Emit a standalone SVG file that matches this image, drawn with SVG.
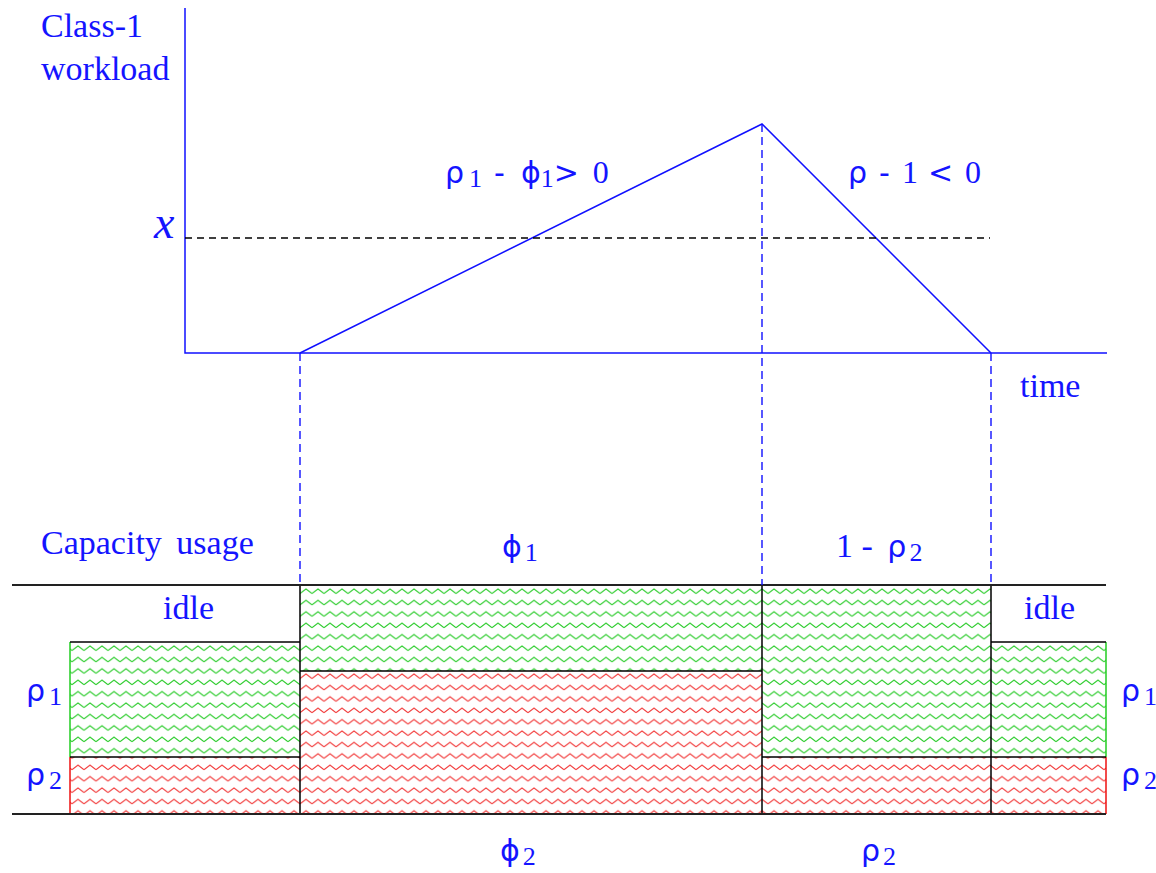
<svg xmlns="http://www.w3.org/2000/svg" width="1156" height="873" viewBox="0 0 1156 873">
<defs>
<pattern id="zg" patternUnits="userSpaceOnUse" width="12" height="11.4" x="0" y="588">
<polyline points="0,5.5 6,1 12,5.5" fill="none" stroke="#2ccc2c" stroke-width="1.1"/>
</pattern>
<pattern id="zr" patternUnits="userSpaceOnUse" width="12" height="11.4" x="0" y="673">
<polyline points="0,5.5 6,1 12,5.5" fill="none" stroke="#f23c3c" stroke-width="1.1"/>
</pattern>
</defs>
<style>
.t{font-family:"Liberation Serif","Times New Roman",serif;font-size:34px;fill:#1414ff}
.g{font-family:"DejaVu Sans","Liberation Sans",sans-serif;font-size:30px;fill:#1414ff}
.sb{font-family:"Liberation Serif","Times New Roman",serif;font-size:26px}
.n{font-family:"Liberation Serif","Times New Roman",serif;font-size:32px}
.ax{stroke:#1010ff;stroke-width:1.5;fill:none}
.bd{stroke:#1010ff;stroke-width:1.4;stroke-dasharray:8,5;fill:none}
.k{stroke:#000;stroke-width:1.5;fill:none}
</style>
<rect width="1156" height="873" fill="#fff"/>
<g id="bars">
<rect x="70" y="642" width="230" height="115" fill="url(#zg)"/>
<rect x="70" y="757" width="230" height="57" fill="url(#zr)"/>
<rect x="300" y="585" width="462" height="86" fill="url(#zg)"/>
<rect x="300" y="671" width="462" height="143" fill="url(#zr)"/>
<rect x="762" y="585" width="229" height="172" fill="url(#zg)"/>
<rect x="762" y="757" width="229" height="57" fill="url(#zr)"/>
<rect x="991" y="642" width="115" height="115" fill="url(#zg)"/>
<rect x="991" y="757" width="115" height="57" fill="url(#zr)"/>
<line x1="70" y1="642" x2="70" y2="757" stroke="#22cc22" stroke-width="1.5"/>
<line x1="70" y1="757" x2="70" y2="814" stroke="#ee1111" stroke-width="1.5"/>
<line x1="1106" y1="642" x2="1106" y2="757" stroke="#22cc22" stroke-width="1.5"/>
<line x1="1106" y1="757" x2="1106" y2="814" stroke="#ee1111" stroke-width="1.5"/>
<path class="k" d="M70,642H300M70,757H300M991,642H1106M991,757H1106M762,757H991M300,671H762M300,585V814M762,585V814M991,585V814"/>
<path d="M12,585H1106M12,814H1106" stroke="#222" stroke-width="1.8" fill="none"/>
</g>
<g id="connectors">
<path class="ax" d="M185,8V353H1107"/>
<polyline class="ax" points="300,353 762,124 991,353" stroke-width="1.3"/>
<line x1="185" y1="238" x2="990" y2="238" stroke="#000" stroke-width="1.3" stroke-dasharray="7,5"/>
<path class="bd" d="M300,353V585M762,124V585M991,353V585"/>
</g>
<g id="labels">
<text class="t" x="41" y="37">Class-1</text>
<text class="t" x="41" y="80">workload</text>
<text class="g" x="445" y="183">ρ<tspan class="sb" dx="5" dy="4">1</tspan><tspan dx="12" dy="-4">-</tspan><tspan dx="16">ϕ</tspan><tspan class="sb" dy="4">1</tspan><tspan dy="-4">&gt;</tspan><tspan class="n" dx="14">0</tspan></text>
<text class="g" x="848" y="183">ρ<tspan dx="12">-</tspan><tspan class="n" dx="12">1</tspan><tspan dx="10">&lt;</tspan><tspan class="n" dx="12">0</tspan></text>
<text x="154" y="238" font-family="Liberation Serif,serif" font-style="italic" font-size="46" fill="#1414ff">x</text>
<text class="t" x="1020" y="397">time</text>
<text class="t" x="41" y="554">Capacity <tspan dx="6">usage</tspan></text>
<text class="g" x="502" y="557">ϕ<tspan class="sb" dx="3" dy="4">1</tspan></text>
<text class="t" x="836" y="557">1 -  <tspan class="g" dx="6">ρ</tspan><tspan class="sb" dx="3" dy="4">2</tspan></text>
<text class="t" x="163" y="619">idle</text>
<text class="t" x="1024" y="619">idle</text>
<text class="g" x="26" y="701">ρ<tspan class="sb" dx="4" dy="4">1</tspan></text>
<text class="g" x="26" y="785">ρ<tspan class="sb" dx="4" dy="4">2</tspan></text>
<text class="g" x="1121" y="701">ρ<tspan class="sb" dx="4" dy="4">1</tspan></text>
<text class="g" x="1121" y="785">ρ<tspan class="sb" dx="4" dy="4">2</tspan></text>
<text class="g" x="500" y="861">ϕ<tspan class="sb" dx="3" dy="4">2</tspan></text>
<text class="g" x="861" y="861">ρ<tspan class="sb" dx="3" dy="4">2</tspan></text>
</g>
</svg>
